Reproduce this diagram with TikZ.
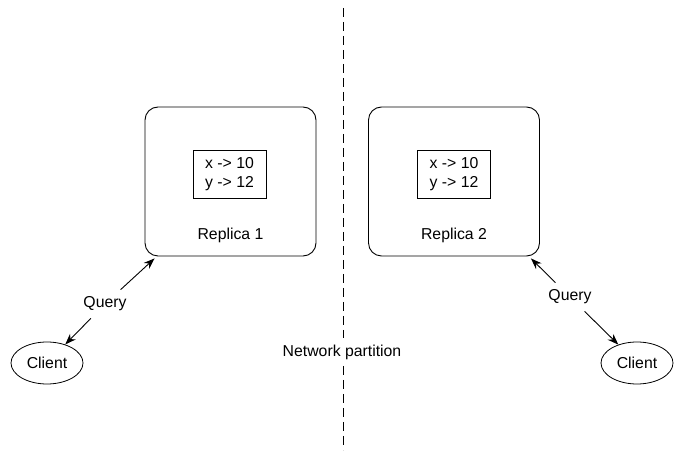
\documentclass[tikz,border=0pt]{standalone}
\usepackage{fontspec}
\setmainfont{Liberation Sans}
\usetikzlibrary{shapes.geometric,arrows.meta}
\begin{document}
\begin{tikzpicture}[x=1pt,y=1pt,
  every node/.style={font=\fontsize{15.8}{19}\selectfont},
  replica/.style={draw, rounded corners=13pt, minimum width=171pt, minimum height=149pt, line width=0.9pt},
  store/.style={draw, minimum width=73pt, minimum height=48pt, align=center, line width=0.9pt, inner sep=0pt},
  client/.style={draw, ellipse, minimum width=72pt, minimum height=42pt, inner sep=0pt, line width=0.8pt},
  label/.style={inner sep=7pt},
  arr/.style={-{Stealth[length=11pt,width=8pt]}, line width=0.9pt},
  part/.style={dash pattern=on 9pt off 5pt, line width=0.9pt}]
\useasboundingbox (0,0) rectangle (684,457);
% replicas
\node[replica] (r1) at (230.5,275.5) {};
\node[store] (s1) at (229.5,283) {x -> 10\\y -> 12};
\node (l1) at (230.5,222) {Replica 1};
\node[replica] (r2) at (454,275.5) {};
\node[store] (s2) at (454,283) {x -> 10\\y -> 12};
\node (l2) at (454,222) {Replica 2};
% clients
\node[client] (c1) at (47,94) {Client};
\node[client] (c2) at (637,94) {Client};
% queries
\node[label] (q1) at (105,153) {Query};
\node[label] (q2) at (570,160) {Query};
\coordinate (r1c) at ([shift={(10pt,-2pt)}]r1.south west);
\coordinate (r2c) at ([shift={(-9pt,-2pt)}]r2.south east);
\draw[arr] (q1) -- (r1c);
\draw[arr] (q1) -- (c1);
\draw[arr] (q2) -- (r2c);
\draw[arr] (q2) -- (c2);
% partition
\coordinate (dtop) at (343,449);
\coordinate (dbot) at (343,7);
\node[inner sep=0pt] (np) at (342,105) {Network partition};
\coordinate (npt) at (343,119);
\coordinate (npb) at (343,91);
\draw[part] (dtop) -- (npt);
\draw[part] (npb) -- (dbot);
\end{tikzpicture}
\end{document}
